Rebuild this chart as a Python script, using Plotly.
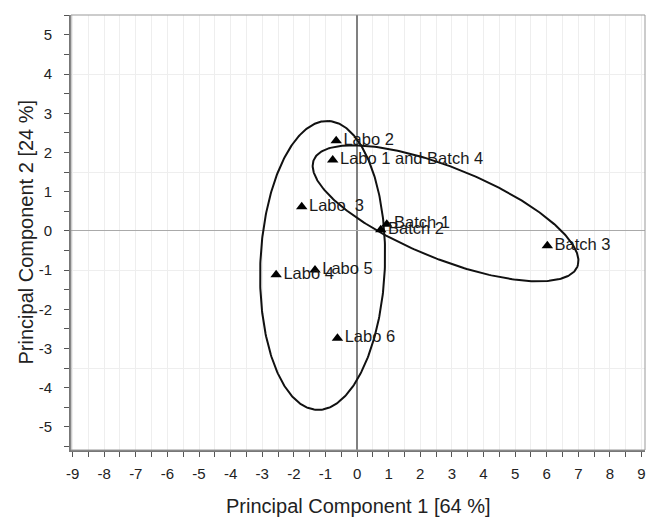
import numpy as np
import plotly.graph_objects as go

# ---- data ----
labels = ["Labo 2", "Labo 1 and Batch 4", "Labo  3", "Batch 1", "Batch 2",
          "Labo 4", "Labo 5", "Labo 6", "Batch 3"]
pc1 = [-0.66, -0.77, -1.75, 0.94, 0.75, -2.56, -1.33, -0.62, 6.02]
pc2 = [2.30, 1.81, 0.62, 0.17, 0.03, -1.12, -1.00, -2.74, -0.38]

# confidence ellipses: centre, semi-axes, rotation (degrees)
ell_names = ["Labo", "Batch"]
ell_cx = [-1.09, 2.80]
ell_cy = [-0.88, 0.45]
ell_a = [3.69, 4.39]
ell_b = [1.97, 1.19]
ell_angle = [86.9, -17.4]

# tick labels (plain hyphen minus as in the reference)
x_tickvals = list(range(-9, 10))
x_ticktext = [str(v) for v in x_tickvals]
y_tickvals = list(range(-5, 6))
y_ticktext = [str(v) for v in y_tickvals]

x_title = "Principal Component 1 [64 %]"
y_title = "Principal Component 2 [24 %]"

FONT = "Liberation Sans, Arial, Helvetica, sans-serif"

fig = go.Figure()

t = np.linspace(0, 2 * np.pi, 361)
for name, cx, cy, a, b, ang in zip(ell_names, ell_cx, ell_cy, ell_a, ell_b, ell_angle):
    th = np.deg2rad(ang)
    ex = cx + a * np.cos(th) * np.cos(t) - b * np.sin(th) * np.sin(t)
    ey = cy + a * np.sin(th) * np.cos(t) + b * np.cos(th) * np.sin(t)
    fig.add_trace(go.Scatter(x=ex, y=ey, mode="lines", name=name,
                             line=dict(color="#111111", width=2),
                             hoverinfo="skip", showlegend=False))

fig.add_trace(go.Scatter(
    x=pc1, y=pc2, mode="markers+text", text=labels,
    textposition="middle right",
    textfont=dict(family=FONT, size=16.5, color="#1a1a1a"),
    marker=dict(symbol="triangle-up", size=10, color="#000000"),
    showlegend=False))

# invisible trace on overlay axis to carry the sparse horizontal grid
fig.add_trace(go.Scatter(x=[0], y=[0], yaxis="y2", mode="markers",
                         marker=dict(opacity=0), hoverinfo="skip", showlegend=False))

xr = [-9.05, 9.11]
yr = [-5.59, 5.51]

fig.update_layout(
    width=647, height=522,
    margin=dict(l=71, r=2, t=15, b=72),
    paper_bgcolor="white", plot_bgcolor="white",
    font=dict(family=FONT, size=14, color="#222222"),
    xaxis=dict(
        range=xr, tickmode="array", tickvals=x_tickvals, ticktext=x_ticktext,
        ticks="outside", ticklen=5, tickwidth=1,
        tickcolor="#555555", showline=True, linecolor="#777777", linewidth=2,
        showgrid=True, gridcolor="#eeeeee", gridwidth=1,
        minor=dict(tickmode="linear", tick0=0, dtick=0.5, ticks="outside", ticklen=5,
                   tickcolor="#555555", showgrid=True, gridcolor="#eeeeee"),
        zeroline=True, zerolinecolor="#808080", zerolinewidth=1.5,
        tickfont=dict(size=15, color="#222222"), ticklabelstandoff=4,
        automargin=False,
    ),
    yaxis=dict(
        range=yr, tickmode="array", tickvals=y_tickvals, ticktext=y_ticktext,
        ticks="outside", ticklen=5, tickwidth=1,
        tickcolor="#555555", showline=True, linecolor="#777777", linewidth=2,
        showgrid=False,
        minor=dict(tickmode="linear", tick0=0, dtick=0.5, ticks="outside", ticklen=5,
                   tickcolor="#555555", showgrid=False),
        zeroline=True, zerolinecolor="#aaaaaa", zerolinewidth=1,
        tickfont=dict(size=15, color="#222222"), ticklabelstandoff=9,
        automargin=False,
    ),
    yaxis2=dict(
        range=yr, overlaying="y", side="right", tick0=1.5, dtick=2.5,
        showticklabels=False, ticks="", showgrid=True, gridcolor="#eeeeee",
        zeroline=False, showline=False, automargin=False,
    ),
    shapes=[dict(type="rect", xref="paper", yref="paper", x0=0, y0=0, x1=1, y1=1,
                 line=dict(color="#999999", width=1), layer="above")],
    annotations=[
        dict(text=x_title, xref="paper", yref="paper", x=0.5, y=0,
             xanchor="center", yanchor="middle", yshift=-56, showarrow=False,
             font=dict(family=FONT, size=20, color="#222222")),
        dict(text=y_title, xref="paper", yref="paper", x=0, y=0.5,
             xanchor="center", yanchor="middle", xshift=-46, textangle=-90,
             showarrow=False, font=dict(family=FONT, size=20, color="#222222")),
    ],
)

fig.write_html(
    "out.html",
    config={"displayModeBar": False},
    post_script="document.body.style.margin='0';document.body.style.overflow='hidden';",
)
